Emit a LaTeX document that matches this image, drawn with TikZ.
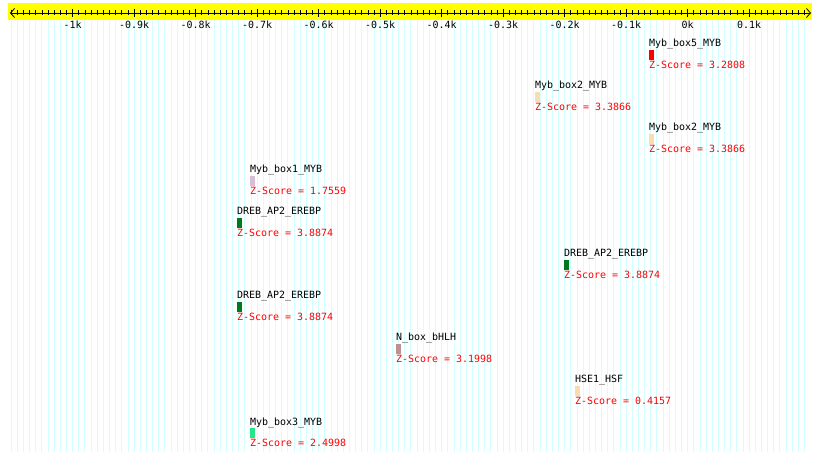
\documentclass[tikz,border=0pt]{standalone}
\usepackage{fontspec}
\setmonofont{DejaVu Sans Mono}
\usetikzlibrary{arrows.meta}
\definecolor{rulerbg}{HTML}{FFFF00}
\definecolor{gridcyan}{HTML}{D2FFFF}
\definecolor{scorered}{HTML}{FF0000}
\definecolor{barred}{HTML}{FF0000}
\definecolor{barwheat}{HTML}{F7DDB2}
\definecolor{barthistle}{HTML}{D8BFD8}
\definecolor{bargreen}{HTML}{007A1E}
\definecolor{barrosy}{HTML}{BF9090}
\definecolor{barspring}{HTML}{22E68A}
\tikzset{
  motifname/.style={anchor=base west,inner sep=0pt,
                    font=\ttfamily\fontsize{10}{12}\selectfont,text=black},
  zscore/.style={motifname,text=scorered},
  motifbar/.style={anchor=north west,inner sep=0pt,
                   minimum width=5bp,minimum height=10bp},
  ticklab/.style={inner sep=0pt,font=\ttfamily\fontsize{10}{12}\selectfont},
  gridline/.style={draw=gridcyan,line width=1bp},
  rulerarr/.style={{Straight Barb[length=4bp,width=9bp]}-{Straight Barb[length=4bp,width=9bp]},line width=0.8bp}
}
\begin{document}
\begin{tikzpicture}[x=1bp,y=-1bp]
  \useasboundingbox[fill=white] (0,0) rectangle (820,461);
  % grid behind everything
  \foreach \v in {-1100,-1090,...,190}
    \draw[gridline] ({687.7+0.615*\v},20) -- ({687.7+0.615*\v},452);
  % ruler
  \fill[rulerbg] (8,3) rectangle (812,20);
  \coordinate (rulerL) at (10,13);
  \coordinate (rulerR) at (811,13);
  \draw[rulerarr] (rulerL) -- (rulerR);
  \foreach \v in {-1100,-1090,...,190}
    \draw[line width=0.8bp] ({687.7+0.615*\v},10.5) -- ({687.7+0.615*\v},15.5);
  \foreach \v/\lab in {-1000/-1k,-900/-0.9k,-800/-0.8k,-700/-0.7k,-600/-0.6k,
                       -500/-0.5k,-400/-0.4k,-300/-0.3k,-200/-0.2k,-100/-0.1k,
                       0/0k,100/0.1k}{
    \draw[line width=0.8bp] ({687.7+0.615*\v},9) -- ({687.7+0.615*\v},17.5);
    \node[ticklab] (tick\v) at ({687.7+0.615*\v},25) {\lab};
  }
  % motif hits
  \foreach \row/\px/\motif/\barcol/\z in {
      0/649/Myb\_box5\_MYB/barred/3.2808,
      1/535/Myb\_box2\_MYB/barwheat/3.3866,
      2/649/Myb\_box2\_MYB/barwheat/3.3866,
      3/250/Myb\_box1\_MYB/barthistle/1.7559,
      4/237/DREB\_AP2\_EREBP/bargreen/3.8874,
      5/564/DREB\_AP2\_EREBP/bargreen/3.8874,
      6/237/DREB\_AP2\_EREBP/bargreen/3.8874,
      7/396/N\_box\_bHLH/barrosy/3.1998,
      8/575/HSE1\_HSF/barwheat/0.4157,
      9/250/Myb\_box3\_MYB/barspring/2.4998}{
    \node[motifname] (name\row) at (\px,{47+42*\row}) {\motif};
    \node[motifbar,fill=\barcol] (bar\row) at (\px,{50+42*\row}) {};
    \node[zscore] (score\row) at (\px,{68.5+42*\row}) {Z-Score = \z};
  }
\end{tikzpicture}
\end{document}
